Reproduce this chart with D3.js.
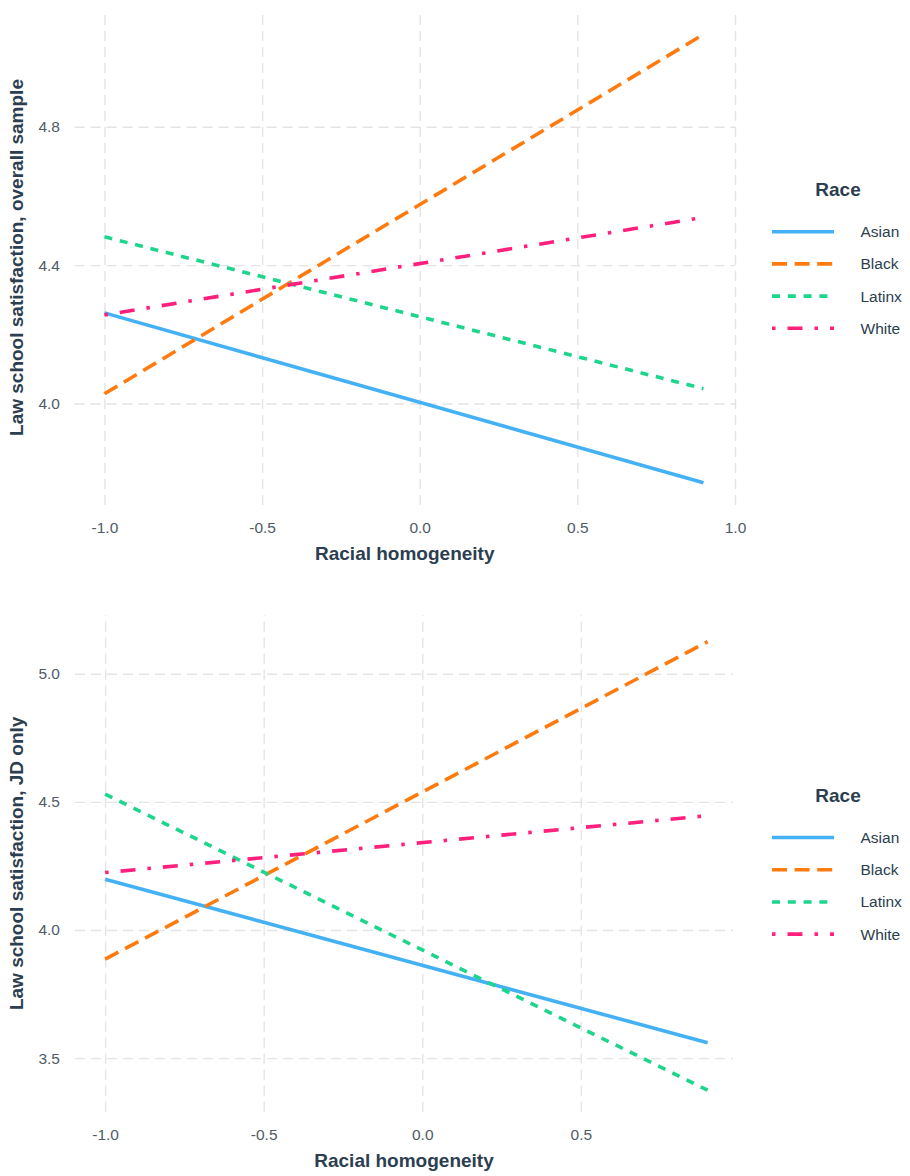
<!DOCTYPE html>
<html>
<head>
<meta charset="utf-8">
<script src="https://cdn.jsdelivr.net/npm/d3@7/dist/d3.min.js"></script>
<style>
  html, body { margin: 0; padding: 0; background: #ffffff; }
  svg { display: block; }
  text { font-family: "Liberation Sans", Arial, sans-serif; }
</style>
</head>
<body>
<svg id="chart" width="910" height="1176"></svg>
<script>
// ---------- data ----------
const races = ["Asian", "Black", "Latinx", "White"];
const xEnds = [-1, 0.9];

const overallAsian  = [4.262, 3.771];
const overallBlack  = [4.028, 5.067];
const overallLatinx = [4.482, 4.043];
const overallWhite  = [4.256, 4.538];

const jdAsian  = [4.198, 3.560];
const jdBlack  = [3.886, 5.125];
const jdLatinx = [4.530, 3.375];
const jdWhite  = [4.224, 4.446];

const overallYTicks = [4.0, 4.4, 4.8];
const overallXTicks = [-1.0, -0.5, 0.0, 0.5, 1.0];
const jdYTicks = [3.5, 4.0, 4.5, 5.0];
const jdXTicks = [-1.0, -0.5, 0.0, 0.5];

const xTitle = "Racial homogeneity";
const overallYTitle = "Law school satisfaction, overall sample";
const jdYTitle = "Law school satisfaction, JD only";
const legendTitle = "Race";

// ---------- styles ----------
const colors = { Asian: "#45B1F5", Black: "#FF7B0F", Latinx: "#1ED58C", White: "#FF1F7C" };
const dashes = { Asian: null, Black: "15,7.6", Latinx: "8,7.8", White: "3.5,12,15,12" };
const titleColor = "#2c3e50";
const tickColor = "#4f5b66";
const gridColor = "#e4e4e4";

const fmt = d => d3.format(".1f")(d).replace("\u2212", "-");

const svg = d3.select("#chart");

function drawPanel(cfg) {
  const x = d3.scaleLinear().domain(cfg.xDomain).range([cfg.left, cfg.right]);
  const y = d3.scaleLinear().domain(cfg.yDomain).range([cfg.bottom, cfg.top]);
  const g = svg.append("g");

  // grid (vertical)
  const gx = g.append("g").attr("transform", `translate(0,${cfg.bottom})`)
    .call(d3.axisBottom(x).tickValues(cfg.xTicks).tickSize(-(cfg.bottom - cfg.top)).tickFormat(""));
  gx.select(".domain").remove();
  gx.selectAll("line").attr("stroke", gridColor).attr("stroke-width", 1.4).attr("stroke-dasharray", "10,6");

  // grid (horizontal)
  const gy = g.append("g").attr("transform", `translate(${cfg.left},0)`)
    .call(d3.axisLeft(y).tickValues(cfg.yTicks).tickSize(-(cfg.right - cfg.left)).tickFormat(""));
  gy.select(".domain").remove();
  gy.selectAll("line").attr("stroke", gridColor).attr("stroke-width", 1.4).attr("stroke-dasharray", "10,6");

  // tick labels
  const lx = g.append("g").attr("transform", `translate(0,${cfg.bottom})`)
    .call(d3.axisBottom(x).tickValues(cfg.xTicks).tickSize(0).tickPadding(17).tickFormat(fmt));
  lx.select(".domain").remove();
  lx.selectAll("text").attr("fill", tickColor).style("font-size", "15.5px").style("font-family", "'Liberation Sans', Arial, sans-serif");

  const ly = g.append("g").attr("transform", `translate(${cfg.left},0)`)
    .call(d3.axisLeft(y).tickValues(cfg.yTicks).tickSize(0).tickPadding(cfg.left - 60).tickFormat(fmt));
  ly.select(".domain").remove();
  ly.selectAll("text").attr("fill", tickColor).style("font-size", "15.5px").style("font-family", "'Liberation Sans', Arial, sans-serif");

  // axis titles
  g.append("text")
    .attr("x", (cfg.left + cfg.right) / 2).attr("y", cfg.bottom + 55)
    .attr("text-anchor", "middle").attr("fill", titleColor)
    .style("font-size", "19px").style("font-weight", "bold")
    .text(xTitle);
  const cy = (cfg.top + cfg.bottom) / 2;
  g.append("text")
    .attr("transform", `translate(23,${cy}) rotate(-90)`)
    .attr("text-anchor", "middle").attr("fill", titleColor)
    .style("font-size", "19px").style("font-weight", "bold")
    .text(cfg.yTitle);

  // lines
  const line = d3.line().x(d => x(d[0])).y(d => y(d[1]));
  cfg.series.forEach((vals, i) => {
    const r = races[i];
    const pts = xEnds.map((xv, j) => [xv, vals[j]]);
    g.append("path").datum(pts)
      .attr("d", line).attr("fill", "none")
      .attr("stroke", colors[r]).attr("stroke-width", 3.6)
      .attr("stroke-dasharray", dashes[r]);
  });

  // legend
  const lg = g.append("g");
  lg.append("text")
    .attr("x", 838).attr("y", cy - 61.5)
    .attr("text-anchor", "middle").attr("fill", titleColor)
    .style("font-size", "19px").style("font-weight", "bold")
    .text(legendTitle);
  races.forEach((r, i) => {
    const ry = cy - 25.8 + i * 32.2;
    lg.append("line")
      .attr("x1", 772).attr("x2", 834).attr("y1", ry).attr("y2", ry)
      .attr("stroke", colors[r]).attr("stroke-width", 3.6)
      .attr("stroke-dasharray", dashes[r]);
    lg.append("text")
      .attr("x", 860.5).attr("y", ry).attr("dy", "0.35em")
      .attr("fill", titleColor).style("font-size", "15.5px")
      .text(r);
  });
}

drawPanel({
  left: 74.5, right: 735, top: 10, bottom: 505,
  xDomain: [-1.095, 1.0], yDomain: [3.7066, 5.1376],
  xTicks: overallXTicks, yTicks: overallYTicks,
  yTitle: overallYTitle,
  series: [overallAsian, overallBlack, overallLatinx, overallWhite]
});

drawPanel({
  left: 75, right: 733, top: 615, bottom: 1111.7,
  xDomain: [-1.095, 0.98], yDomain: [3.291, 5.229],
  xTicks: jdXTicks, yTicks: jdYTicks,
  yTitle: jdYTitle,
  series: [jdAsian, jdBlack, jdLatinx, jdWhite]
});
</script>
</body>
</html>
